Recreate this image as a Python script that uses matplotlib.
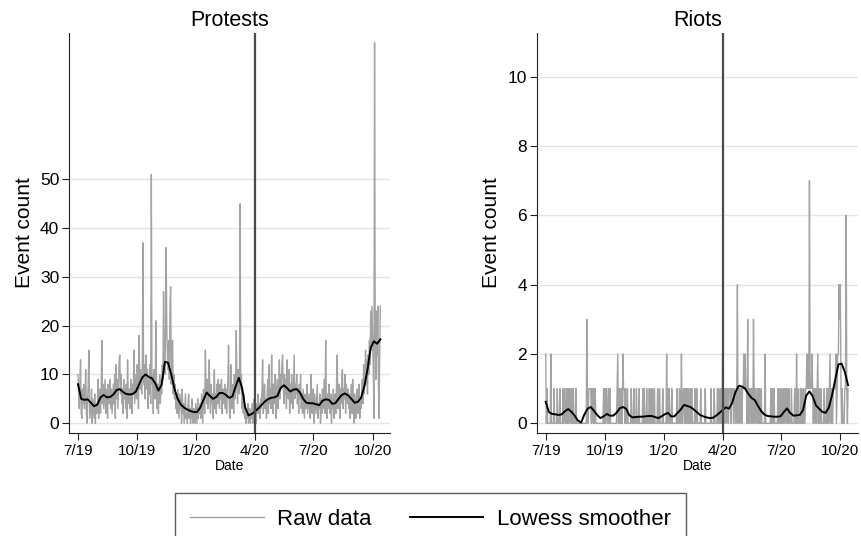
import numpy as np
import matplotlib
matplotlib.use('Agg')
import matplotlib.pyplot as plt

plt.rcParams['font.family'] = ['Liberation Sans', 'DejaVu Sans']

# daily counts, first day 1 July 2019 (10 days per row)
protests = [
    10, 6, 3, 9, 13, 2, 1, 7, 4, 8,
    3, 6, 11, 2, 0, 5, 9, 15, 1, 4,
    2, 7, 0, 5, 3, 1, 6, 0, 4, 2,
    3, 9, 1, 5, 7, 2, 6, 17, 4, 8,
    3, 6, 9, 2, 7, 5, 1, 8, 4, 6,
    9, 3, 7, 2, 5, 8, 4, 10, 1, 12,
    5, 9, 3, 8, 13, 14, 6, 10, 4, 7,
    2, 9, 5, 7, 3, 8, 1, 13, 6, 4,
    7, 3, 9, 5, 2, 8, 6, 15, 4, 7,
    10, 5, 12, 8, 3, 18, 7, 11, 9, 6,
    13, 37, 8, 12, 5, 10, 14, 7, 11, 3,
    9, 6, 12, 4, 51, 8, 10, 2, 11, 7,
    5, 21, 9, 3, 8, 2, 7, 10, 4, 9,
    6, 12, 9, 27, 15, 10, 18, 36, 20, 14,
    11, 17, 9, 24, 28, 8, 13, 17, 6, 10,
    5, 8, 3, 6, 2, 7, 4, 1, 6, 3,
    5, 0, 7, 2, 4, 0, 3, 6, 1, 2,
    0, 4, 6, 1, 3, 0, 2, 5, 1, 0,
    3, 1, 0, 4, 2, 0, 5, 1, 3, 2,
    4, 1, 6, 3, 0, 7, 5, 2, 15, 8,
    4, 9, 3, 7, 13, 5, 2, 8, 4, 6,
    1, 7, 11, 3, 6, 2, 8, 4, 9, 5,
    3, 8, 5, 9, 2, 7, 6, 4, 8, 3,
    7, 2, 6, 9, 16, 4, 1, 5, 12, 3,
    6, 8, 2, 10, 5, 7, 19, 9, 4, 11,
    8, 6, 45, 7, 10, 3, 5, 2, 6, 1,
    3, 0, 2, 1, 4, 0, 1, 3, 0, 2,
    1, 4, 0, 2, 5, 1, 3, 0, 4, 2,
    6, 2, 4, 1, 5, 3, 7, 13, 2, 4,
    8, 3, 5, 1, 6, 9, 2, 12, 4, 7,
    3, 14, 6, 2, 8, 4, 10, 5, 1, 7,
    9, 3, 6, 13, 5, 10, 7, 12, 14, 8,
    4, 10, 6, 9, 3, 13, 7, 5, 11, 2,
    8, 4, 10, 6, 3, 9, 14, 5, 8, 6,
    10, 4, 7, 2, 8, 5, 10, 3, 6, 2,
    7, 4, 1, 6, 3, 5, 8, 2, 4, 6,
    3, 1, 10, 5, 2, 7, 3, 0, 6, 4,
    2, 5, 8, 1, 4, 3, 6, 0, 5, 2,
    7, 3, 5, 9, 2, 17, 4, 1, 6, 3,
    8, 4, 2, 6, 0, 5, 3, 7, 1, 4,
    6, 2, 9, 14, 3, 5, 8, 1, 7, 4,
    9, 11, 3, 7, 5, 10, 2, 8, 6, 4,
    7, 3, 6, 1, 5, 8, 2, 9, 4, 0,
    6, 3, 1, 5, 7, 2, 4, 8, 1, 5,
    3, 7, 9, 4, 12, 6, 10, 15, 8, 13,
    6, 14, 10, 17, 12, 23, 15, 24, 18, 11,
    1, 78, 20, 9, 23, 14, 24, 8, 1, 15, 24,
]

riots_rows = [
    "2010000020", "0001000010", "0010000101", "1001010110", "0101000100",
    "0000000000", "0000300111", "1011010100", "0000000000", "1010110010",
    "1000000000", "0120101010", "2110100100", "0001000100", "0100010000",
    "0101000100", "0100101001", "0000100100", "0010000020", "1010001000",
    "0000100010", "0200110101", "1010010100", "0010010000", "0100000010",
    "0000000100", "0010000101", "0010021101", "1011011101", "1101100140",
    "1101101121", "2110301011", "0103101100", "1010010000", "0200000000",
    "1010010000", "0100100100", "1011010010", "0010000100", "2010001010",
    "0100112121", "7111210110", "1012010010", "0001000101", "0120100111",
    "1201224341", "0100011610", "1",
]
riots = [int(c) for c in "".join(riots_rows)]

# lowess smoother, every 5th day
protests_smooth = [
    8.0, 5.0, 4.8, 4.9, 4.2, 3.5, 3.8, 5.3, 5.8, 5.3,
    5.4, 5.9, 6.8, 7.0, 6.4, 6.0, 5.9, 6.0, 6.5, 8.0,
    9.4, 10.0, 9.5, 9.2, 8.2, 6.7, 7.9, 12.6, 12.4, 10.0,
    7.0, 5.0, 3.8, 3.2, 2.8, 2.5, 2.3, 2.3, 3.2, 4.8,
    6.3, 5.6, 5.0, 5.4, 6.2, 6.2, 5.8, 5.2, 5.5, 7.5,
    9.3, 7.3, 3.2, 1.6, 1.9, 2.4, 3.0, 3.7, 4.4, 4.9,
    5.2, 5.3, 5.6, 7.2, 7.8, 7.2, 6.5, 6.9, 7.0, 6.3,
    5.0, 4.2, 4.1, 4.1, 3.9, 3.7, 4.6, 4.9, 4.8, 4.0,
    4.1, 5.0, 5.8, 6.1, 5.7, 5.0, 4.2, 4.4, 5.2, 7.5,
    11.0, 15.5, 16.8, 16.3, 17.2,
]
riots_smooth = [
    0.62, 0.32, 0.27, 0.26, 0.24, 0.26, 0.35, 0.41, 0.33, 0.22,
    0.08, 0.02, 0.25, 0.42, 0.47, 0.36, 0.24, 0.15, 0.20, 0.27,
    0.22, 0.22, 0.30, 0.43, 0.47, 0.42, 0.23, 0.17, 0.18, 0.19,
    0.19, 0.20, 0.21, 0.21, 0.18, 0.15, 0.20, 0.26, 0.30, 0.20,
    0.20, 0.30, 0.40, 0.53, 0.50, 0.47, 0.40, 0.32, 0.24, 0.20,
    0.17, 0.15, 0.16, 0.22, 0.30, 0.38, 0.46, 0.42, 0.60, 0.90,
    1.08, 1.06, 1.00, 0.85, 0.73, 0.67, 0.50, 0.35, 0.25, 0.21,
    0.20, 0.19, 0.19, 0.20, 0.32, 0.43, 0.30, 0.22, 0.23, 0.24,
    0.38, 0.80, 0.92, 0.78, 0.52, 0.42, 0.33, 0.30, 0.45, 0.80,
    1.25, 1.70, 1.72, 1.48, 1.10,
]

start = np.datetime64('2019-07-01')
cutoff = np.datetime64('2020-04-01')
tick_dates = ['2019-07-01', '2019-10-01', '2020-01-01', '2020-04-01', '2020-07-01', '2020-10-01']
tick_labels = ['7/19', '10/19', '1/20', '4/20', '7/20', '10/20']

days = start + np.arange(len(protests))
smooth_days = start + np.arange(0, 5 * len(protests_smooth), 5)

fig = plt.figure(figsize=(8.61, 5.36), dpi=100)
ax1 = fig.add_axes([69 / 861, 103 / 536, 321 / 861, 400 / 536])
ax2 = fig.add_axes([536.7 / 861, 103 / 536, 321 / 861, 400 / 536])


def panel(ax, raw, smooth, title, yticks, ylim):
    ax.grid(axis='y', color='#e4e4e4', lw=1)
    ax.set_axisbelow(True)
    raw_line, = ax.plot(days, raw, color='#a3a3a3', lw=1)
    sm_line, = ax.plot(smooth_days, smooth, color='black', lw=1.4)
    ax.axvline(cutoff, color='#4a4a4a', lw=1.6)
    ax.set_ylim(*ylim)
    ax.set_xlim(np.datetime64('2019-06-17'), np.datetime64('2020-10-28'))
    ax.set_yticks(yticks)
    ax.set_xticks([np.datetime64(d) for d in tick_dates])
    ax.set_xticklabels(tick_labels)
    for s in ['top', 'right']:
        ax.spines[s].set_visible(False)
    for s in ['left', 'bottom']:
        ax.spines[s].set_color('#222222')
    ax.tick_params(axis='y', labelsize=12.5, length=5, pad=2, color='#222222')
    ax.tick_params(axis='x', labelsize=11, length=5, pad=3, color='#222222')
    ax.set_title(title, fontsize=15.5, pad=5)
    ax.set_ylabel('Event count', fontsize=15)
    ax.yaxis.set_label_coords(-0.11, 0.5)
    ax.set_xlabel('Date', fontsize=10, labelpad=1)
    return raw_line, sm_line


handles = panel(ax1, protests, protests_smooth, 'Protests', range(0, 51, 10), (-2, 80))
panel(ax2, riots, riots_smooth, 'Riots', range(0, 11, 2), (-0.28, 11.26))

leg = fig.legend(handles, ['Raw data', 'Lowess smoother'], loc='upper center',
                 bbox_to_anchor=(0.5, 43 / 536), ncol=2, fancybox=False,
                 edgecolor='#333333', fontsize=16, handlelength=3.3,
                 handletextpad=0.62, columnspacing=1.7, borderpad=0.7,
                 borderaxespad=0)
leg.get_frame().set_linewidth(1)

fig.savefig('out.png', dpi=100)
